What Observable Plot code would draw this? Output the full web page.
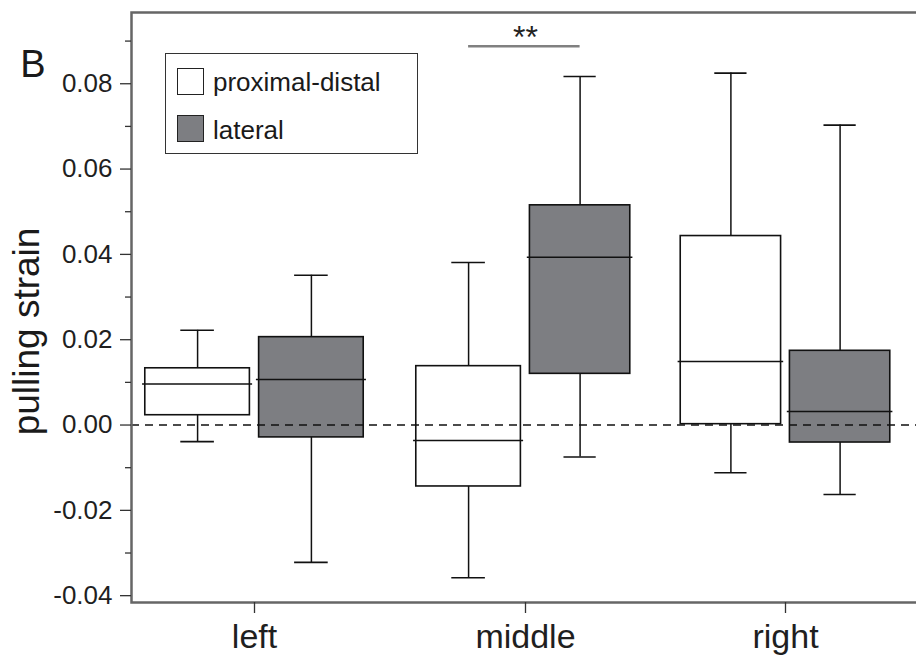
<!DOCTYPE html>
<html>
<head>
<meta charset="utf-8">
<script src="https://cdn.jsdelivr.net/npm/d3@7"></script>
<script src="https://cdn.jsdelivr.net/npm/@observablehq/plot@0.6"></script>
<style>
  html, body { margin: 0; padding: 0; background: #fff; overflow: hidden; }
  #wrap { position: relative; width: 916px; height: 658px; font-family: "Liberation Sans", Arial, Helvetica, sans-serif; }
  #legend { position: absolute; left: 165px; top: 53px; width: 251px; height: 99px; border: 1.5px solid #333; background: #fff; }
  .sw { position: absolute; left: 11px; width: 25px; height: 25px; border: 1.5px solid #222; }
  .lt { position: absolute; left: 47px; font-size: 26px; color: #1a1a1a; line-height: 1; }
</style>
</head>
<body>
<div id="wrap"></div>
<script>
// ---- data ----
const categories = ["left", "middle", "right"];
const series = ["proximal-distal", "lateral"];
const seriesColors = ["#ffffff", "#7d7e82"];

const pdLow    = [-0.0039, -0.0358, -0.0112];
const pdQ1     = [ 0.0023, -0.0144,  0.0002];
const pdMedian = [ 0.0096, -0.0036,  0.0149];
const pdQ3     = [ 0.0133,  0.0138,  0.0443];
const pdHigh   = [ 0.0222,  0.0381,  0.0825];

const latLow    = [-0.0322, -0.0075, -0.0163];
const latQ1     = [-0.0029,  0.0120, -0.0041];
const latMedian = [ 0.0107,  0.0393,  0.0032];
const latQ3     = [ 0.0206,  0.0515,  0.0174];
const latHigh   = [ 0.0351,  0.0817,  0.0703];

const yMajorTicks = [-0.04, -0.02, 0, 0.02, 0.04, 0.06, 0.08];
const yMinorTicks = [-0.03, -0.01, 0.01, 0.03, 0.05, 0.07, 0.09];
const significance = {category: "middle", y: 0.0888, label: "**"};

// ---- build table ----
const offset = {"proximal-distal": -0.21, "lateral": 0.21};
const stats = {
  "proximal-distal": [pdLow, pdQ1, pdMedian, pdQ3, pdHigh],
  "lateral": [latLow, latQ1, latMedian, latQ3, latHigh]
};
const rows = [];
categories.forEach((c, i) => {
  series.forEach((s, j) => {
    const [lo, q1, med, q3, hi] = stats[s];
    rows.push({category: c, series: s, pos: i + offset[s], fill: seriesColors[j],
      lo: lo[i], q1: q1[i], med: med[i], q3: q3[i], hi: hi[i]});
  });
});
const BOX = 0.193, CAP = 0.062, MED = 0.203;
const sigI = categories.indexOf(significance.category);
const sigRow = [{x1: sigI + offset["proximal-distal"], x2: sigI + offset["lateral"], y: significance.y, label: significance.label}];

const ink = "#111";
const chart = Plot.plot({
  width: 916,
  height: 658,
  marginTop: 12,
  marginBottom: 56,
  marginLeft: 131,
  marginRight: -4,
  style: {fontFamily: "'Liberation Sans', Arial, Helvetica, sans-serif", fontSize: "26px", color: "#1f1f1f", background: "#fff"},
  x: {type: "linear", domain: [0, 1, 2], range: [254, 525, 785], axis: null},
  y: {domain: [-0.0416, 0.0967], axis: null},
  marks: [
    // whiskers
    Plot.ruleX(rows, {x: "pos", y1: "lo", y2: "hi", stroke: ink, strokeWidth: 1.5}),
    Plot.ruleY(rows, {x1: d => d.pos - CAP, x2: d => d.pos + CAP, y: "lo", stroke: ink, strokeWidth: 1.6}),
    Plot.ruleY(rows, {x1: d => d.pos - CAP, x2: d => d.pos + CAP, y: "hi", stroke: ink, strokeWidth: 1.6}),
    // boxes
    Plot.rect(rows, {x1: d => d.pos - BOX, x2: d => d.pos + BOX, y1: "q1", y2: "q3", fill: "fill", stroke: ink, strokeWidth: 1.6}),
    // medians
    Plot.ruleY(rows, {x1: d => d.pos - MED, x2: d => d.pos + MED, y: "med", stroke: ink, strokeWidth: 1.5}),
    // zero line
    Plot.ruleY([0], {stroke: ink, strokeWidth: 1.5, strokeDasharray: "8,6"}),
    // significance bar
    Plot.ruleY(sigRow, {x1: "x1", x2: "x2", y: "y", stroke: "#808080", strokeWidth: 2.5}),
    Plot.text(sigRow, {x: d => (d.x1 + d.x2) / 2, y: "y", text: "label", dy: -8, lineAnchor: "middle", textAnchor: "middle", fontSize: 32, fill: "#222"}),
    // frame
    Plot.frame({stroke: "#666", strokeWidth: 2.5}),
    // axes
    Plot.axisY({ticks: yMajorTicks, tickSize: 11, tickPadding: 8, tickFormat: d => d.toFixed(2), label: null, fontSize: 26, stroke: "#333", strokeWidth: 1.3}),
    Plot.axisY({ticks: yMinorTicks, tickSize: 6, tickFormat: () => "", label: null, stroke: "#333", strokeWidth: 1.3}),
    Plot.axisX({ticks: [0, 1, 2], tickSize: 11, tickPadding: 10, tickFormat: i => categories[i], label: null, fontSize: 34, stroke: "#333", strokeWidth: 1.3}),
    // y label and panel letter
    Plot.text(["pulling strain"], {frameAnchor: "left", text: d => d, rotate: -90, textAnchor: "middle", lineAnchor: "bottom", dx: -93, dy: 24, fontSize: 37, fill: "#1a1a1a"}),
    Plot.text(["B"], {frameAnchor: "top-left", text: d => d, textAnchor: "middle", lineAnchor: "bottom", dx: -98.5, dy: 64, fontSize: 38, fill: "#1a1a1a"})
  ]
});

const wrap = document.getElementById("wrap");
wrap.appendChild(chart);

// legend
const legend = document.createElement("div");
legend.id = "legend";
series.forEach((s, j) => {
  const sw = document.createElement("div");
  sw.className = "sw";
  sw.style.top = (j === 0 ? 14 : 61) + "px";
  sw.style.background = seriesColors[j];
  legend.appendChild(sw);
  const t = document.createElement("div");
  t.className = "lt";
  t.style.top = (j === 0 ? 15 : 63) + "px";
  t.textContent = s;
  legend.appendChild(t);
});
wrap.appendChild(legend);
</script>
</body>
</html>
